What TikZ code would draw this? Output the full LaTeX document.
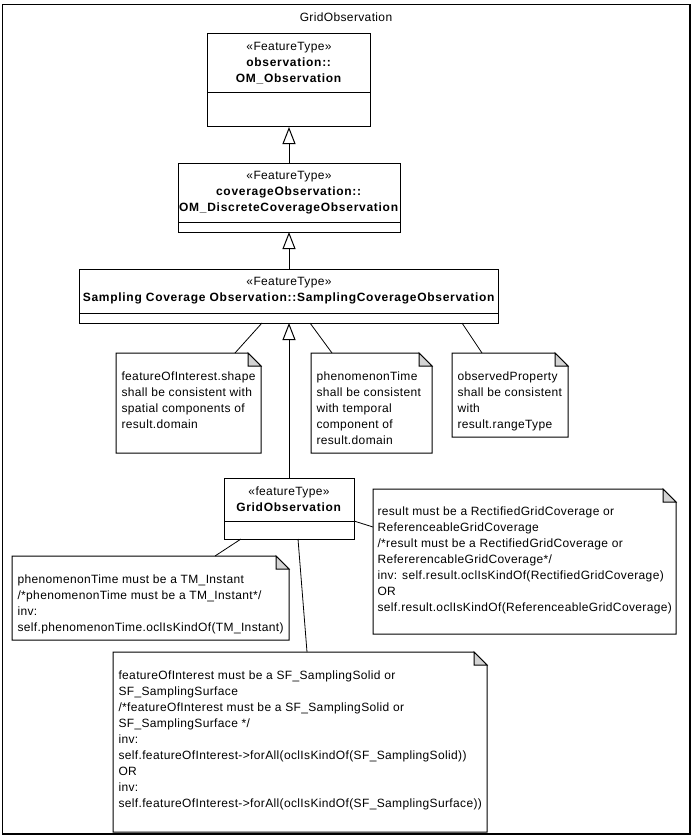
\documentclass[tikz,border=0pt]{standalone}
\usepackage{fontspec}
\setmainfont{Liberation Sans}[LetterSpace=3, BoldFeatures={LetterSpace=6}]
\usetikzlibrary{arrows.meta, positioning}
\definecolor{foldgrey}{HTML}{D4D4D4}
\newcommand{\umlfont}{\fontsize{12}{16}\selectfont}
% note outline with folded top right corner
\newcommand{\dogear}[1]{%
  \draw (#1.south west) -- (#1.north west) -- ([xshift=-13pt]#1.north east)
    -- ([yshift=-13pt]#1.north east) -- (#1.south east) -- cycle;
  \filldraw[fill=foldgrey] ([xshift=-13pt]#1.north east) -- ([xshift=-13pt,yshift=-13pt]#1.north east)
    -- ([yshift=-13pt]#1.north east) -- cycle;}
\tikzset{
  every picture/.style={line width=1pt, font=\umlfont},
  classbox/.style={draw, align=center, inner sep=0pt, outer sep=0pt},
  attrbox/.style={draw, inner sep=0pt, outer sep=0pt},
  notebox/.style={inner sep=0pt, outer sep=0pt},
  notetext/.style={align=left, inner sep=0pt, anchor=north west},
  gen/.style={-{Triangle[open, length=17pt, width=13pt]}},
  link/.style={draw, line width=0.8pt},
}

\begin{document}
\begin{tikzpicture}[x=1pt, y=-1pt]
  \useasboundingbox (0,0) rectangle (697,840);
  \node[draw, line width=1.5pt, minimum width=687.5pt, minimum height=829.5pt, inner sep=0pt] (frame) at (346.25,419.25) {};
  \node (title) at (346,17) {GridObservation};

  % classes
  \node[classbox, minimum width=163pt, minimum height=59pt] (om) at (289,63.5) {«FeatureType»\\\textbf{observation::}\\\textbf{OM\_Observation}};
  \node[attrbox, minimum width=163pt, minimum height=34pt, below=0pt of om] (omattr) {};
  \node[classbox, minimum width=222pt, minimum height=59pt] (cov) at (289,192.5) {«FeatureType»\\\textbf{coverageObservation::}\\\textbf{OM\_DiscreteCoverageObservation}};
  \node[attrbox, minimum width=222pt, minimum height=10pt, below=0pt of cov] (covattr) {};
  \node[classbox, minimum width=419pt, minimum height=44pt] (sco) at (289,291) {«FeatureType»\\\textbf{Sampling Coverage Observation::SamplingCoverageObservation}};
  \node[attrbox, minimum width=419pt, minimum height=10pt, below=0pt of sco] (scoattr) {};
  \node[classbox, minimum width=130pt, minimum height=43pt] (gobs) at (289,499.5) {«featureType»\\\textbf{GridObservation}};
  \node[attrbox, minimum width=130pt, minimum height=18pt, below=0pt of gobs] (gattr) {};

  % notes
  \node[notebox, minimum width=145pt, minimum height=100pt] (shape) at (188.5,403) {};
  \node[notebox, minimum width=121pt, minimum height=100pt] (ptime) at (371.5,403) {};
  \node[notebox, minimum width=116pt, minimum height=84pt] (oprop) at (510,395) {};
  \node[notebox, minimum width=303pt, minimum height=145pt] (result) at (524.5,561.5) {};
  \node[notebox, minimum width=277pt, minimum height=84pt] (instant) at (150.5,598) {};
  \node[notebox, minimum width=374pt, minimum height=180pt] (foi) at (300,742) {};
  \dogear{shape}
  \dogear{ptime}
  \dogear{oprop}
  \dogear{result}
  \dogear{instant}
  \dogear{foi}

  \node[notetext] (shapet) at ([xshift=5pt,yshift=-18pt]shape.north west) {featureOfInterest.shape\\shall be consistent with\\spatial components of\\result.domain};
  \node[notetext] (ptimet) at ([xshift=5pt,yshift=-18pt]ptime.north west) {phenomenonTime\\shall be consistent\\with temporal\\component of\\result.domain};
  \node[notetext] (opropt) at ([xshift=5pt,yshift=-18pt]oprop.north west) {observedProperty\\shall be consistent\\with\\result.rangeType};
  \node[notetext] (resultt) at ([xshift=4pt,yshift=-17pt]result.north west) {result must be a RectifiedGridCoverage or\\ReferenceableGridCoverage\\/*result must be a RectifiedGridCoverage or\\RefererencableGridCoverage*/\\inv: self.result.oclIsKindOf(RectifiedGridCoverage)\\OR\\self.result.oclIsKindOf(ReferenceableGridCoverage)};
  \node[notetext] (instantt) at ([xshift=5pt,yshift=-18pt]instant.north west) {phenomenonTime must be a TM\_Instant\\/*phenomenonTime must be a TM\_Instant*/\\inv:\\self.phenomenonTime.oclIsKindOf(TM\_Instant)};
  \node[notetext] (foit) at ([xshift=5pt,yshift=-18pt]foi.north west) {featureOfInterest must be a SF\_SamplingSolid or\\SF\_SamplingSurface\\/*featureOfInterest must be a SF\_SamplingSolid or\\SF\_SamplingSurface */\\inv:\\self.featureOfInterest->forAll(oclIsKindOf(SF\_SamplingSolid))\\OR\\inv:\\self.featureOfInterest->forAll(oclIsKindOf(SF\_SamplingSurface))};

  % generalizations
  \draw[gen] (cov.north) -- (omattr.south);
  \draw[gen] (sco.north) -- (covattr.south);
  \draw[gen] (gobs.north) -- (scoattr.south);

  % note links
  \draw[link] ([xshift=-27pt]scoattr.south) -- ([xshift=46.5pt]shape.north);
  \draw[link] ([xshift=21pt]scoattr.south) -- ([xshift=-39.5pt]ptime.north);
  \draw[link] ([xshift=173pt]scoattr.south) -- ([xshift=-28pt]oprop.north);
  \draw[link] (gattr.north east) -- ([yshift=34.5pt]result.west);
  \draw[link] ([xshift=-48pt]gattr.south) -- ([xshift=64.5pt]instant.north);
  \draw[link] ([xshift=9pt]gattr.south) -- ([xshift=7pt]foi.north);
\end{tikzpicture}
\end{document}
